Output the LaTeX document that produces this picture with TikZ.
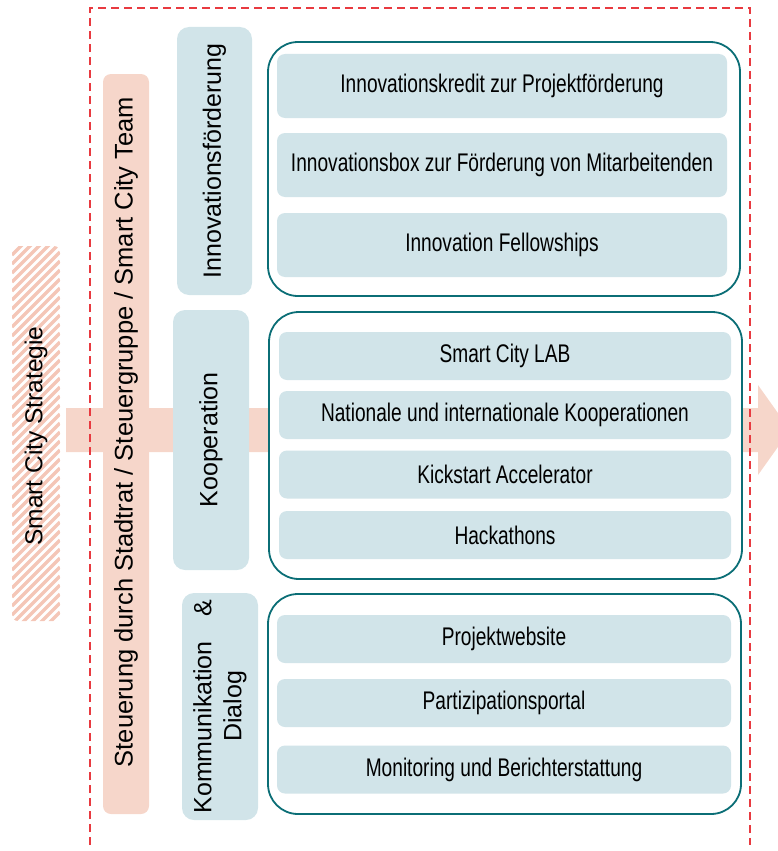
\documentclass[tikz,border=0pt]{standalone}
\usepackage{fontspec}
\setmainfont{Liberation Sans}
\newfontfamily\narrowfont[FakeStretch=0.75]{Liberation Sans}
\definecolor{salmon}{HTML}{F6D6CA}
\definecolor{stripecol}{HTML}{F4C6B7}
\definecolor{paleblue}{HTML}{D1E4E9}
\definecolor{tealline}{HTML}{0B6E76}
\definecolor{framered}{HTML}{E83A40}
\tikzset{
  pillar/.style={fill=paleblue, rounded corners=12pt, inner sep=0pt, rotate=90,
    font=\fontsize{25}{30}\selectfont},
  govbar/.style={fill=salmon, rounded corners=8pt, inner sep=0pt, rotate=90},
  group/.style={draw=tealline, line width=1.8pt, fill=white, rounded corners=30pt, inner sep=0pt},
  item/.style={fill=paleblue, rounded corners=8pt, inner sep=0pt,
    font=\narrowfont\fontsize{25.5}{30}\selectfont},
  stripeline/.style={stripecol, line width=3.4pt},
}
\begin{document}
\begin{tikzpicture}[x=1pt, y=-1pt]
\useasboundingbox (0,0) rectangle (777,851);

% big arrow behind everything
\fill[salmon] (66,408) -- (758,408) -- (758,385) -- (790,430)
  -- (758,475) -- (758,452) -- (66,452) -- cycle;

% striped strategy box
\begin{scope}
\clip[rounded corners=6pt] (12,246) rectangle (60,621);
\fill[white] (12,246) rectangle (60,621);
\foreach \c in {258,267,...,690}
  \draw[stripeline] (12,\c-12) -- (60,\c-60);
\end{scope}
\node[rotate=90, font=\fontsize{24.5}{30}\selectfont] (strategie) at (36,436) {Smart City Strategie};

% governance bar
\node[govbar, minimum width=740pt, minimum height=46pt] (steuer) at (126,444) {};
\node[rotate=90, font=\fontsize{25.5}{30}\selectfont] (steuertext) at ([yshift=12pt]steuer.center)
  {Steuerung durch Stadtrat / Steuergruppe / Smart City Team};

% pillars
\node[pillar, minimum width=268pt, minimum height=75pt] (innov) at (214.5,161) {Innovationsförderung};
\node[pillar, minimum width=260pt, minimum height=76pt] (koop) at (211,440) {Kooperation};
\node[pillar, minimum width=227pt, minimum height=76pt, align=center] (komm) at (220,706.5)
  {Kommunikation\quad\&\\Dialog};

% groups
\node[group, minimum width=472pt, minimum height=254pt] (grpinnov) at (504,169) {};
\node[group, minimum width=473pt, minimum height=267pt] (grpkoop) at (505.5,445.5) {};
\node[group, minimum width=473pt, minimum height=220pt] (grpkomm) at (504.5,704) {};

% items
\node[item, minimum width=450pt, minimum height=64pt] (kredit) at (502,86) {Innovationskredit zur Projektförderung};
\node[item, minimum width=450pt, minimum height=64pt] (box) at (502,165) {Innovationsbox zur Förderung von Mitarbeitenden};
\node[item, minimum width=450pt, minimum height=64pt] (fellow) at (502,245) {Innovation Fellowships};

\node[item, minimum width=452pt, minimum height=48pt] (lab) at (505,356) {Smart City LAB};
\node[item, minimum width=452pt, minimum height=48pt] (natint) at (505,415) {Nationale und internationale Kooperationen};
\node[item, minimum width=452pt, minimum height=48pt] (kick) at (505,474.5) {Kickstart Accelerator};
\node[item, minimum width=452pt, minimum height=48pt] (hack) at (505,535) {Hackathons};

\node[item, minimum width=454pt, minimum height=48pt] (web) at (504,639) {Projektwebsite};
\node[item, minimum width=454pt, minimum height=48pt] (portal) at (504,703) {Partizipationsportal};
\node[item, minimum width=454pt, minimum height=48pt] (monitor) at (504,769.5) {Monitoring und Berichterstattung};

% dashed frame on top
\draw[framered, line width=1.5pt, dash pattern=on 8pt off 5pt] (90,845) -- (90,8) -- (750,8) -- (750,845);

\end{tikzpicture}
\end{document}
